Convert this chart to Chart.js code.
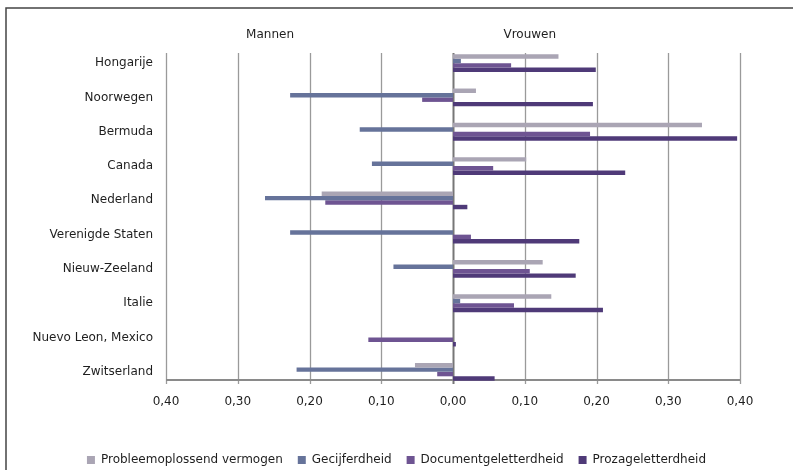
<!DOCTYPE html>
<html>
<head>
<meta charset="utf-8">
<script src="https://cdn.jsdelivr.net/npm/chart.js@4/dist/chart.umd.min.js"></script>
<style>
  html, body { margin: 0; padding: 0; background: #ffffff; }
  #wrap { width: 793px; height: 470px; position: relative; }
</style>
</head>
<body>
<div id="wrap"><canvas id="c" width="793" height="470"></canvas></div>
<script>
// Countries (top to bottom)
const categories = ['Hongarije', 'Noorwegen', 'Bermuda', 'Canada', 'Nederland',
  'Verenigde Staten', 'Nieuw-Zeeland', 'Italie', 'Nuevo Leon, Mexico', 'Zwitserland'];

// Differences per skill domain (negative = Mannen side, positive = Vrouwen side)
const probleemoplossend = [0.147, 0.032, 0.347, 0.102, -0.183, null, 0.125, 0.137, null, -0.053];
const gecijferdheid     = [0.011, -0.227, -0.130, -0.113, -0.262, -0.227, -0.083, 0.010, null, -0.218];
const documentgel       = [0.081, -0.043, 0.191, 0.056, -0.178, 0.025, 0.107, 0.085, -0.118, -0.022];
const prozagel          = [0.199, 0.195, 0.396, 0.240, 0.020, 0.176, 0.171, 0.209, 0.004, 0.058];

const seriesNames = ['Probleemoplossend vermogen', 'Gecijferdheid', 'Documentgeletterdheid', 'Prozageletterdheid'];
const axisTicks = [-0.4, -0.3, -0.2, -0.1, 0, 0.1, 0.2, 0.3, 0.4];
const sideLabels = [['Mannen', -0.255], ['Vrouwen', 0.107]];

const FONT = 'DejaVu Sans';
const TEXT = '#1e1e1e';

// Frame, side headers and vertical gridlines
const decor = {
  id: 'decor',
  beforeDraw(chart) {
    const ctx = chart.ctx;
    ctx.save();
    ctx.strokeStyle = '#444444';
    ctx.lineWidth = 1.5;
    ctx.beginPath();
    ctx.moveTo(6, 470);
    ctx.lineTo(6, 8);
    ctx.lineTo(793, 8);
    ctx.stroke();
    ctx.restore();
  },
  beforeDatasetsDraw(chart) {
    const ctx = chart.ctx;
    const xs = chart.scales.x;
    const area = chart.chartArea;
    const gridTop = area.top + 7;
    const axisY = area.bottom - 9;
    ctx.save();
    xs.ticks.forEach(t => {
      const px = Math.round(xs.getPixelForValue(t.value)) + 0.5;
      ctx.strokeStyle = t.value === 0 ? '#777777' : '#9a9a9a';
      ctx.lineWidth = t.value === 0 ? 2 : 1.3;
      ctx.beginPath();
      ctx.moveTo(px, gridTop);
      ctx.lineTo(px, axisY + 4);
      ctx.stroke();
    });
    ctx.strokeStyle = '#8a8a8a';
    ctx.lineWidth = 2;
    ctx.beginPath();
    ctx.moveTo(xs.getPixelForValue(-0.4), axisY);
    ctx.lineTo(xs.getPixelForValue(0.4), axisY);
    ctx.stroke();

    ctx.fillStyle = TEXT;
    ctx.font = '12px "' + FONT + '"';
    ctx.textAlign = 'center';
    ctx.textBaseline = 'middle';
    sideLabels.forEach(([txt, v]) => {
      ctx.fillText(txt, xs.getPixelForValue(v), 35);
    });
    ctx.restore();
  }
};

const colors = ['#aaa5b4', '#66739a', '#6e5492', '#4f3a78'];
const values = [probleemoplossend, gecijferdheid, documentgel, prozagel];

new Chart(document.getElementById('c'), {
  type: 'bar',
  data: {
    labels: categories,
    datasets: seriesNames.map((name, i) => ({
      label: name,
      data: values[i],
      backgroundColor: colors[i],
      borderWidth: 0,
      categoryPercentage: 0.52,
      barPercentage: 1.0
    }))
  },
  options: {
    indexAxis: 'y',
    responsive: false,
    animation: false,
    layout: { padding: { left: 0, right: 0, top: 46, bottom: -6 } },
    plugins: {
      legend: {
        position: 'bottom',
        labels: {
          font: { family: FONT, size: 12 },
          color: TEXT,
          boxWidth: 8,
          boxHeight: 8,
          padding: 15
        }
      },
      tooltip: { enabled: false }
    },
    scales: {
      x: {
        type: 'linear',
        min: -0.4,
        max: 0.4,
        afterBuildTicks(scale) { scale.ticks = axisTicks.map(v => ({ value: v })); },
        afterFit(scale) { scale.height = 50; },
        grid: { display: false, drawTicks: false },
        border: { display: false },
        ticks: {
          font: { family: FONT, size: 12 },
          color: TEXT,
          padding: 6,
          maxRotation: 0,
          callback: v => Math.abs(v).toFixed(2).replace('.', ',')
        }
      },
      y: {
        type: 'category',
        position: 'left',
        afterFit(scale) { scale.width = 166; },
        grid: { display: false, drawTicks: false },
        border: { display: false },
        ticks: {
          font: { family: FONT, size: 12 },
          color: TEXT,
          padding: 13
        }
      },
      yRight: {
        type: 'category',
        position: 'right',
        labels: categories,
        afterFit(scale) { scale.width = 53; },
        grid: { display: false, drawTicks: false },
        border: { display: false },
        ticks: { display: false }
      }
    }
  },
  plugins: [decor]
});
</script>
</body>
</html>
